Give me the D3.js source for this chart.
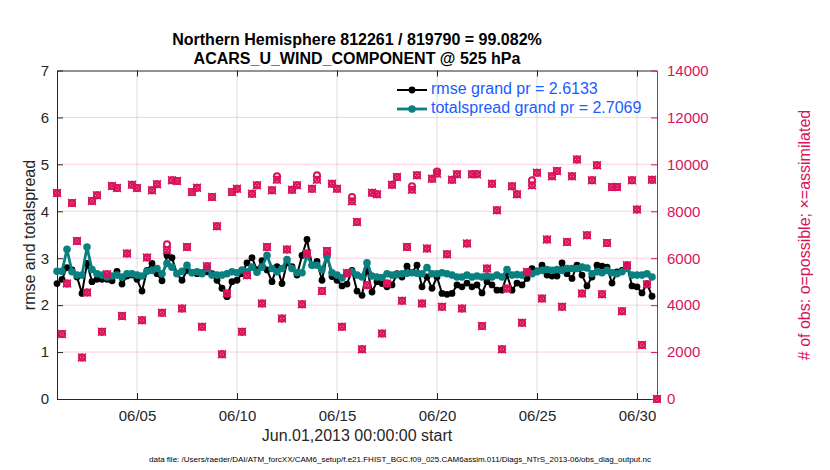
<!DOCTYPE html>
<html>
<head>
<meta charset="utf-8">
<script src="https://d3js.org/d3.v7.min.js"></script>
<style>
  body { margin: 0; background: #fff; }
  svg { font-family: "Liberation Sans", Arial, Helvetica, sans-serif; }
</style>
</head>
<body>
<svg id="chart" width="830" height="470"></svg>
<script>
// 6-hourly bins starting Jun.01,2013 00Z
const rmse = [
  2.46, 2.55, 2.80, 2.75, 2.60, 2.25, 2.89, 2.50, 2.55, 2.55, 2.55, 2.52, 2.72, 2.45, 2.62, 2.64, 2.55, 2.30, 2.74, 2.89,
  2.67, 2.52, 3.06, 3.01, 2.67, 2.53, 2.74, 2.69, 2.67, 2.69, 2.71, 2.67, 2.53, 2.36, 2.18, 2.50, 2.53, 2.67, 2.90, 3.01,
  2.75, 2.95, 2.75, 2.50, 2.82, 2.46, 2.90, 2.82, 2.64, 3.06, 3.40, 2.85, 2.93, 2.53, 3.06, 2.61, 2.53, 2.41, 2.45, 2.74,
  2.30, 2.21, 2.78, 2.28, 2.50, 2.46, 2.39, 2.43, 2.67, 2.60, 2.83, 2.70, 2.85, 2.39, 2.60, 2.36, 2.60, 2.25, 2.23, 2.25,
  2.43, 2.39, 2.47, 2.39, 2.43, 2.26, 2.50, 2.43, 2.32, 2.32, 2.64, 2.32, 2.47, 2.43, 2.57, 2.78, 2.73, 2.85, 2.64, 2.62,
  2.62, 2.90, 2.67, 2.57, 2.85, 2.64, 2.41, 2.60, 2.85, 2.83, 2.81, 2.47, 2.71, 2.74, 2.85, 2.41, 2.39, 2.26, 2.46, 2.19
];
const totalspread = [
  2.72, 2.72, 3.19, 2.71, 2.64, 2.64, 3.24, 2.76, 2.67, 2.64, 2.60, 2.62, 2.64, 2.60, 2.67, 2.67, 2.64, 2.62, 2.72, 2.74,
  2.78, 2.67, 2.89, 2.81, 2.67, 2.72, 2.85, 2.69, 2.71, 2.67, 2.78, 2.64, 2.64, 2.64, 2.67, 2.71, 2.69, 2.75, 2.71, 2.81,
  2.70, 2.81, 3.06, 2.78, 2.71, 2.78, 2.97, 2.78, 2.69, 2.69, 3.06, 2.85, 2.85, 2.76, 3.04, 2.69, 2.64, 2.58, 2.67, 2.71,
  2.64, 2.60, 2.90, 2.62, 2.60, 2.59, 2.67, 2.64, 2.65, 2.67, 2.68, 2.69, 2.68, 2.67, 2.80, 2.67, 2.67, 2.69, 2.67, 2.64,
  2.60, 2.60, 2.64, 2.60, 2.62, 2.60, 2.62, 2.60, 2.64, 2.60, 2.76, 2.64, 2.65, 2.64, 2.69, 2.67, 2.71, 2.74, 2.76, 2.74,
  2.76, 2.74, 2.78, 2.78, 2.78, 2.81, 2.79, 2.67, 2.71, 2.69, 2.74, 2.69, 2.67, 2.71, 2.78, 2.64, 2.64, 2.64, 2.67, 2.60
];
const nAssimilated = [
  8779, 2766, 4923, 8353, 6736, 1773, 4539, 8438, 8680, 2865, 5319, 9077, 8992, 3532, 6198, 9134, 8992, 3361, 6028, 8893,
  9150, 3672, 6340, 9318, 9290, 3859, 6481, 8821, 9008, 3077, 5659, 8608, 7361, 1902, 4497, 8821, 8965, 2865, 5276, 8752,
  9106, 4072, 6481, 8893, 9348, 3434, 6370, 8921, 9106, 4042, 6198, 8965, 9348, 4608, 6310, 9178, 8965, 3077, 5374, 8425,
  7544, 2115, 4851, 8795, 8723, 2794, 4923, 9134, 9460, 4184, 6481, 8921, 9531, 4072, 6412, 9390, 9603, 3928, 6170, 9348,
  9574, 3859, 6625, 9574, 9574, 3106, 5561, 9178, 8042, 2115, 4710, 9063, 8723, 3247, 5417, 9106, 9646, 4284, 6795, 9489,
  9715, 3928, 6695, 9489, 10212, 4497, 6978, 9318, 9957, 4468, 6652, 9035, 9035, 3744, 5702, 9318, 8071, 2298, 4893, 9348,
  0
];
const nPossible = [
  8779, 2766, 4923, 8353, 6736, 1773, 4539, 8438, 8680, 2865, 5319, 9077, 8992, 3532, 6198, 9134, 8992, 3361, 6028, 8893,
  9150, 3672, 6595, 9318, 9290, 3859, 6481, 8821, 9008, 3077, 5659, 8608, 7361, 1902, 4497, 8821, 8965, 2865, 5276, 8752,
  9106, 4072, 6481, 8893, 9489, 3434, 6370, 8921, 9106, 4042, 6198, 8965, 9531, 4608, 6310, 9178, 8965, 3077, 5374, 8608,
  7544, 2115, 4851, 8795, 8723, 2794, 4923, 9134, 9460, 4184, 6481, 9063, 9531, 4072, 6412, 9390, 9700, 3928, 6170, 9348,
  9574, 3859, 6625, 9574, 9574, 3106, 5561, 9178, 8042, 2115, 4710, 9063, 8723, 3247, 5417, 9318, 9646, 4284, 6795, 9489,
  9715, 3928, 6695, 9489, 10212, 4497, 6978, 9318, 9957, 4468, 6652, 9035, 9035, 3744, 5702, 9318, 8071, 2298, 4893, 9348,
  0
];
const xTickDays = [5, 10, 15, 20, 25, 30];
const leftTicks = [0, 1, 2, 3, 4, 5, 6, 7];
const rightTicks = [0, 2000, 4000, 6000, 8000, 10000, 12000, 14000];
const titleLines = ["Northern Hemisphere 812261 / 819790 = 99.082%", "ACARS_U_WIND_COMPONENT @ 525 hPa"];
const legendLabels = ["rmse grand pr = 2.6133", "totalspread grand pr = 2.7069"];

const MAG = "#d8135c", TEAL = "#0a8080", BLUE = "#1a5cff", AX = "#262626";
const start = Date.UTC(2013, 5, 1);
const t = k => new Date(start + k * 6 * 3600 * 1000);

const svg = d3.select("#chart");
svg.append("rect").attr("width", 830).attr("height", 470).attr("fill", "#fff");

const L = 57, R = 657, T = 70.5, B = 399;
const x = d3.scaleUtc().domain([new Date(start), new Date(Date.UTC(2013, 6, 1))]).range([L, R]);
const yL = d3.scaleLinear().domain([0, 7]).range([B, T]);
const yR = d3.scaleLinear().domain([0, 14000]).range([B, T]);
const xTicks = xTickDays.map(d => new Date(Date.UTC(2013, 5, d)));

// grids
svg.append("g").selectAll("line").data(xTicks).join("line")
  .attr("x1", d => x(d)).attr("x2", d => x(d)).attr("y1", T).attr("y2", B)
  .attr("stroke", "#dedede").attr("stroke-width", 1);
svg.append("g").selectAll("line").data(rightTicks.slice(1, -1)).join("line")
  .attr("x1", L).attr("x2", R).attr("y1", d => yR(d)).attr("y2", d => yR(d))
  .attr("stroke", MAG).attr("stroke-opacity", 0.18).attr("stroke-width", 1);

// axes
const fmt = d3.utcFormat("%m/%d");
const gB = svg.append("g").attr("transform", `translate(0,${B})`)
  .call(d3.axisBottom(x).tickValues(xTicks).tickFormat(fmt).tickSizeInner(-6).tickSizeOuter(0).tickPadding(11));
const gT = svg.append("g").attr("transform", `translate(0,${T})`)
  .call(d3.axisTop(x).tickValues(xTicks).tickFormat("").tickSizeInner(-6).tickSizeOuter(0));
const gL = svg.append("g").attr("transform", `translate(${L},0)`)
  .call(d3.axisLeft(yL).tickValues(leftTicks).tickFormat(d3.format("d")).tickSizeInner(-6).tickSizeOuter(0).tickPadding(8));
const gR = svg.append("g").attr("transform", `translate(${R},0)`)
  .call(d3.axisRight(yR).tickValues(rightTicks).tickFormat(d3.format("d")).tickSizeInner(-6).tickSizeOuter(0).tickPadding(10));
[gB, gT, gL].forEach(g => {
  g.select(".domain").attr("stroke", AX);
  g.selectAll(".tick line").attr("stroke", AX);
  g.selectAll("text").attr("fill", AX).style("font-size", "15px");
});
gR.select(".domain").attr("stroke", MAG);
gR.selectAll(".tick line").attr("stroke", MAG);
gR.selectAll("text").attr("fill", MAG).style("font-size", "15px");

// rmse (black)
const line = d3.line().x((d, i) => x(t(i))).y(d => yL(d));
svg.append("path").datum(rmse).attr("d", line).attr("fill", "none")
  .attr("stroke", "#000").attr("stroke-width", 2);
svg.append("g").selectAll("circle").data(rmse).join("circle")
  .attr("cx", (d, i) => x(t(i))).attr("cy", d => yL(d)).attr("r", 3.4).attr("fill", "#000");

// totalspread (teal)
svg.append("path").datum(totalspread).attr("d", line).attr("fill", "none")
  .attr("stroke", TEAL).attr("stroke-width", 2.8);
svg.append("g").selectAll("circle").data(totalspread).join("circle")
  .attr("cx", (d, i) => x(t(i))).attr("cy", d => yL(d)).attr("r", 3.8).attr("fill", TEAL);

// obs counts: o = possible, x = assimilated
svg.append("g").selectAll("circle").data(nPossible).join("circle")
  .attr("cx", (d, i) => x(t(i))).attr("cy", d => yR(d)).attr("r", 3)
  .attr("fill", "none").attr("stroke", MAG).attr("stroke-width", 2);
const s = 3.9;
svg.append("g").selectAll("path").data(nAssimilated).join("path")
  .attr("transform", (d, i) => `translate(${x(t(i))},${yR(d)})`)
  .attr("d", `M${-s},${-s}L${s},${s}M${-s},${s}L${s},${-s}`)
  .attr("stroke", MAG).attr("stroke-width", 1.7).attr("fill", "none");
svg.append("g").selectAll("circle").data(nAssimilated).join("circle")
  .attr("cx", (d, i) => x(t(i))).attr("cy", d => yR(d)).attr("r", 3)
  .attr("fill", "none").attr("stroke", MAG).attr("stroke-width", 2);

// titles and labels
svg.append("g").selectAll("text").data(titleLines).join("text")
  .attr("x", 357).attr("y", (d, i) => 45 + i * 19).attr("text-anchor", "middle")
  .style("font-size", "16px").style("font-weight", "bold").attr("fill", "#000").text(d => d);

svg.append("text").attr("transform", "translate(31,235) rotate(-90)")
  .attr("text-anchor", "middle").attr("dominant-baseline", "middle")
  .style("font-size", "16px").attr("fill", AX).text("rmse and totalspread");
svg.append("text").attr("transform", "translate(806,235) rotate(-90)")
  .attr("text-anchor", "middle").attr("dominant-baseline", "middle")
  .style("font-size", "16px").attr("fill", MAG).text("# of obs: o=possible; \u00d7=assimilated");

svg.append("text").attr("x", 357).attr("y", 441).attr("text-anchor", "middle")
  .style("font-size", "16px").attr("fill", AX).text("Jun.01,2013 00:00:00 start");
svg.append("text").attr("x", 400).attr("y", 462).attr("text-anchor", "middle")
  .style("font-size", "8px").attr("fill", "#000")
  .text("data file: /Users/raeder/DAI/ATM_forcXX/CAM6_setup/f.e21.FHIST_BGC.f09_025.CAM6assim.011/Diags_NTrS_2013-06/obs_diag_output.nc");

// legend
const legendColors = ["#000", TEAL];
const lg = svg.append("g").selectAll("g").data(legendLabels).join("g")
  .attr("transform", (d, i) => `translate(397,${90 + i * 19})`);
lg.append("line").attr("x1", 0).attr("x2", 30).attr("stroke", (d, i) => legendColors[i])
  .attr("stroke-width", (d, i) => i ? 2.8 : 2);
lg.append("circle").attr("cx", 15).attr("r", (d, i) => i ? 3.8 : 3.4).attr("fill", (d, i) => legendColors[i]);
lg.append("text").attr("x", 34).attr("dominant-baseline", "middle")
  .style("font-size", "16px").attr("fill", BLUE).text(d => d);
</script>
</body>
</html>
